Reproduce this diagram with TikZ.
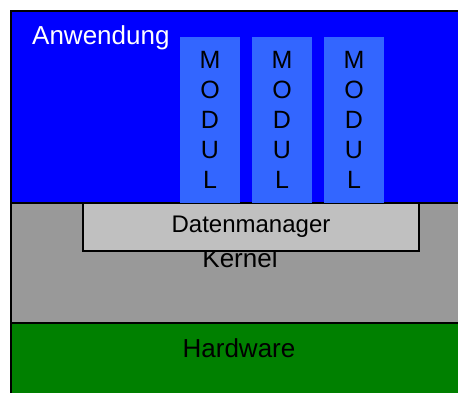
\documentclass[tikz,border=0pt]{standalone}
\usepackage{fontspec}
\setmainfont{Liberation Sans}
\definecolor{modulblau}{HTML}{3366FF}
\definecolor{kerngrau}{HTML}{999999}
\definecolor{dmgrau}{HTML}{C0C0C0}
\definecolor{hwgruen}{HTML}{008000}
\begin{document}
\begin{tikzpicture}[x=1pt, y=-1pt,
    layer/.style={rectangle, draw=black, line width=1.5pt, inner sep=0pt, minimum width=456pt},
    modul/.style={rectangle, fill=modulblau, minimum width=60pt, minimum height=166pt, inner sep=0pt, align=center, font=\fontsize{25}{30}\selectfont},
    schrift/.style={inner sep=0pt, anchor=base, font=\fontsize{26}{30}\selectfont}
]
    \useasboundingbox (0,0) rectangle (458,393);
    \clip (0,0) rectangle (458,393);
    \node[layer, fill=blue, minimum height=192pt] (anwendung) at (239,107) {};
    \node[layer, fill=kerngrau, minimum height=120pt] (kernel) at (239,263) {};
    \node[layer, fill=hwgruen, minimum height=80pt] (hardware) at (239,363) {};
    \node[schrift, anchor=base west, text=white] (anwtext) at (32,45) {Anwendung};
    \node[schrift] (kerntext) at (240,267) {Kernel};
    \node[schrift] (hwtext) at (239,357) {Hardware};
    \node[rectangle, draw=black, line width=1.5pt, fill=dmgrau, minimum width=336pt, minimum height=48pt, font=\fontsize{24}{30}\selectfont] (datenmanager) at (251,227) {Datenmanager};
    \node[modul] (modul1) at (210,120) {M\\O\\D\\U\\L};
    \node[modul] (modul2) at (282,120) {M\\O\\D\\U\\L};
    \node[modul] (modul3) at (354,120) {M\\O\\D\\U\\L};
\end{tikzpicture}
\end{document}
